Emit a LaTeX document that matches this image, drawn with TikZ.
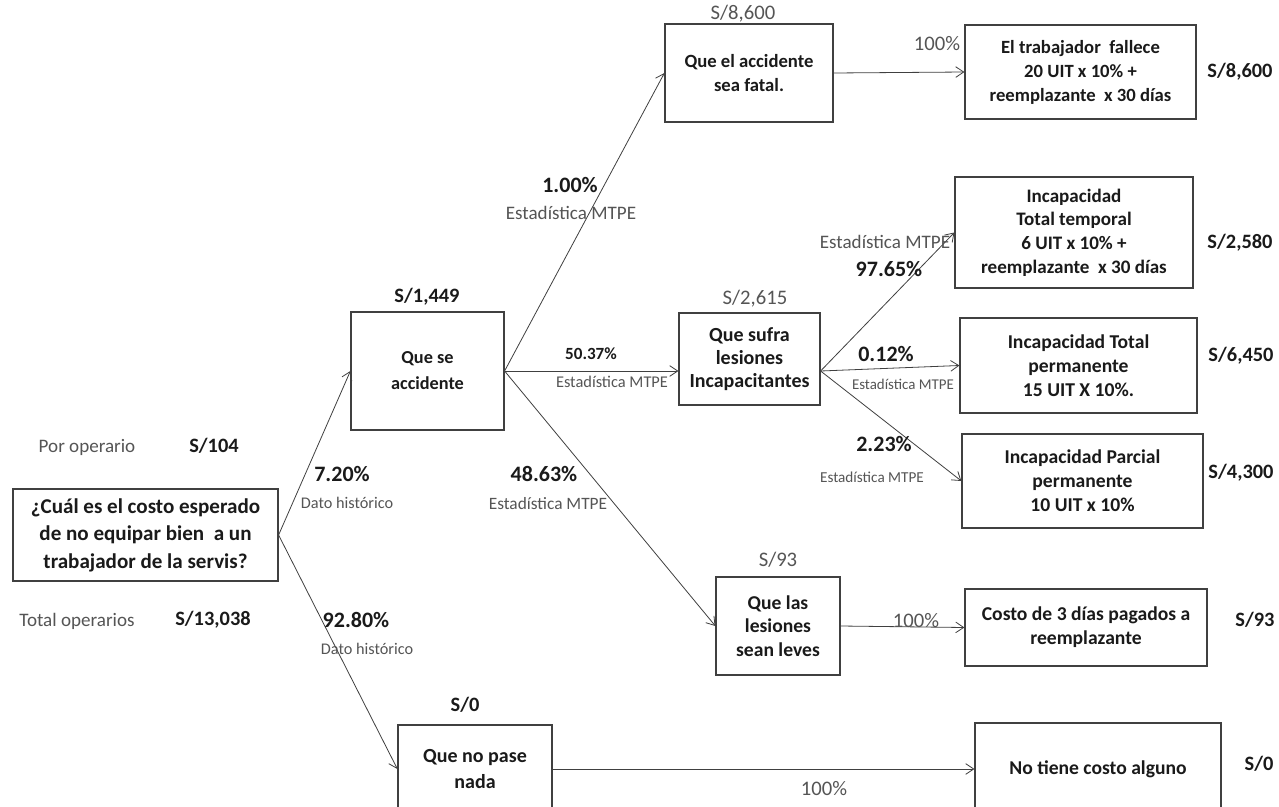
\documentclass[tikz,border=0pt]{standalone}
\usepackage{fontspec}
\setmainfont{Carlito}
\usetikzlibrary{arrows.meta}
\definecolor{ink}{HTML}{1A1A1A}
\definecolor{lab}{HTML}{555555}
\definecolor{edge}{HTML}{404040}
\tikzset{
 box/.style={draw=edge, line width=0.9pt, inner sep=0pt, align=center, font=\bfseries\fontsize{14.7}{18}\selectfont, text=ink},
 conn/.style={draw=edge, line width=0.6pt, -{Straight Barb[length=6pt,width=8pt]}},
 pct/.style={font=\bfseries\fontsize{16.5}{18}\selectfont, text=ink, inner sep=0pt},
 lbl/.style={font=\fontsize{14.3}{16}\selectfont, text=lab, inner sep=0pt},
 cost/.style={font=\bfseries\fontsize{15.3}{18}\selectfont, text=ink, inner sep=0pt},
 costn/.style={font=\fontsize{15.5}{18}\selectfont, text=lab, inner sep=0pt},
}
\begin{document}
\begin{tikzpicture}[x=0.75pt,y=-0.75pt]
\useasboundingbox[fill=white] (0,0) rectangle (1279,807);
% boxes
\node[box, font=\bfseries\fontsize{15.8}{20.6}\selectfont, minimum width=198.75pt, minimum height=69pt] (root) at (145.5,535) {¿Cuál es el costo esperado\\de no equipar bien\ \ a un\\trabajador de la servis?};
\node[box, font=\bfseries\fontsize{13.7}{19.5}\selectfont, minimum width=114.75pt, minimum height=88.5pt] (acc) at (427.5,371) {Que se\\accidente};
\node[box, font=\bfseries\fontsize{14}{18.5}\selectfont, minimum width=126pt, minimum height=73.5pt] (fatal) at (749,73) {Que el accidente\\sea fatal.};
\node[box, font=\bfseries\fontsize{14}{18}\selectfont, minimum width=173.25pt, minimum height=70.5pt] (fallece) at (1080.5,72) {El trabajador\ \ fallece\\20 UIT x 10\% +\\reemplazante\ \ x 30 días};
\node[box, font=\bfseries\fontsize{15}{17.3}\selectfont, minimum width=105.75pt, minimum height=69pt] (sufra) at (749.5,359) {Que sufra\\lesiones\\Incapacitantes};
\node[box, font=\bfseries\fontsize{14.3}{17.8}\selectfont, minimum width=178.5pt, minimum height=83.25pt] (temporal) at (1074,232.5) {Incapacidad\\Total\ temporal\\6 UIT x 10\% +\\reemplazante\ \ x 30 días};
\node[box, minimum width=177.75pt, minimum height=71.25pt] (perm) at (1078.5,365.5) {Incapacidad Total\\permanente\\15 UIT X 10\%.};
\node[box, minimum width=180.75pt, minimum height=70.5pt] (parcial) at (1082.5,481) {Incapacidad Parcial\\permanente\\10 UIT x 10\%};
\node[box, font=\bfseries\fontsize{14.7}{17.6}\selectfont, minimum width=93pt, minimum height=73.5pt] (leves) at (778,626) {Que las\\lesiones\\sean leves};
\node[box, minimum width=181.5pt, minimum height=57.75pt] (costo) at (1086,627.5) {Costo de 3 días pagados a\\reemplazante};
\node[box, font=\bfseries\fontsize{15}{18.8}\selectfont, minimum width=115.5pt, minimum height=66pt] (nada) at (475,769) {Que no pase\\nada};
\node[box, minimum width=184.5pt, minimum height=69pt] (notiene) at (1098,769) {No tiene costo alguno};
% connectors
\draw[conn] (root.east) -- (acc.west);
\draw[conn] (root.east) -- (nada.west);
\draw[conn] (acc.east) -- (fatal.west);
\draw[conn] (acc.east) -- (sufra.west |- acc.east);
\draw[conn] (acc.east) -- (leves.west);
\coordinate (s0) at (sufra.east |- acc.east);
\draw[conn] (s0) -- (temporal.west);
\draw[conn] (s0) -- (perm.west);
\draw[conn] (s0) -- (parcial.west);
\draw[conn] (fatal.east) -- (fallece.west);
\draw[conn] (leves.east) -- (costo.west);
\draw[conn] (nada.east) -- (notiene.west);
% left texts
\node[lbl] (porop) at (87,447) {Por operario};
\node[cost] (v104) at (214,446) {S/104};
\node[lbl] (totop) at (77,621) {Total operarios};
\node[cost] (v13038) at (213,620) {S/13,038};
% probabilities
\node[pct] (p720) at (342,474) {7.20\%};
\node[lbl, font=\fontsize{12.2}{14}\selectfont] (d1) at (347,503) {Dato histórico};
\node[pct] (p9280) at (356,620) {92.80\%};
\node[lbl, font=\fontsize{12.2}{14}\selectfont] (d2) at (367,649) {Dato histórico};
\node[pct] (p100) at (570,185) {1.00\%};
\node[lbl, font=\fontsize{14.3}{16}\selectfont] (e1) at (571,213) {Estadística MTPE};
\node[pct, font=\bfseries\fontsize{12.8}{15}\selectfont] (p5037) at (591,354) {50.37\%};
\node[lbl, font=\fontsize{12.3}{14}\selectfont] (e2) at (612,382) {Estadística MTPE};
\node[pct] (p4863) at (544,474) {48.63\%};
\node[lbl, font=\fontsize{13}{15}\selectfont] (e3) at (548,504) {Estadística MTPE};
\node[lbl, font=\fontsize{14.3}{16}\selectfont] (e4) at (885,242) {Estadística MTPE};
\node[pct] (p9765) at (889,269) {97.65\%};
\node[pct] (p012) at (886,354) {0.12\%};
\node[lbl, font=\fontsize{11.2}{13}\selectfont] (e5) at (903,384) {Estadística MTPE};
\node[pct] (p223) at (884,444) {2.23\%};
\node[lbl, font=\fontsize{11.4}{13}\selectfont] (e6) at (872,477) {Estadística MTPE};
\node[costn] (h1) at (937,44) {100\%};
\node[costn] (h2) at (916,621) {100\%};
\node[costn] (h3) at (824,789) {100\%};
% node values
\node[costn] (v8600a) at (743,14) {S/8,600};
\node[costn] (v2615) at (755,299) {S/2,615};
\node[costn] (v93a) at (778,560) {S/93};
\node[cost] (v1449) at (427,297) {S/1,449};
\node[cost] (v0a) at (465,705) {S/0};
\node[cost] (v8600b) at (1240,72) {S/8,600};
\node[cost] (v2580) at (1240,243) {S/2,580};
\node[cost] (v6450) at (1241,356) {S/6,450};
\node[cost] (v4300) at (1241,473) {S/4,300};
\node[cost] (v93b) at (1255,620) {S/93};
\node[cost] (v0b) at (1259,764) {S/0};
\end{tikzpicture}
\end{document}
